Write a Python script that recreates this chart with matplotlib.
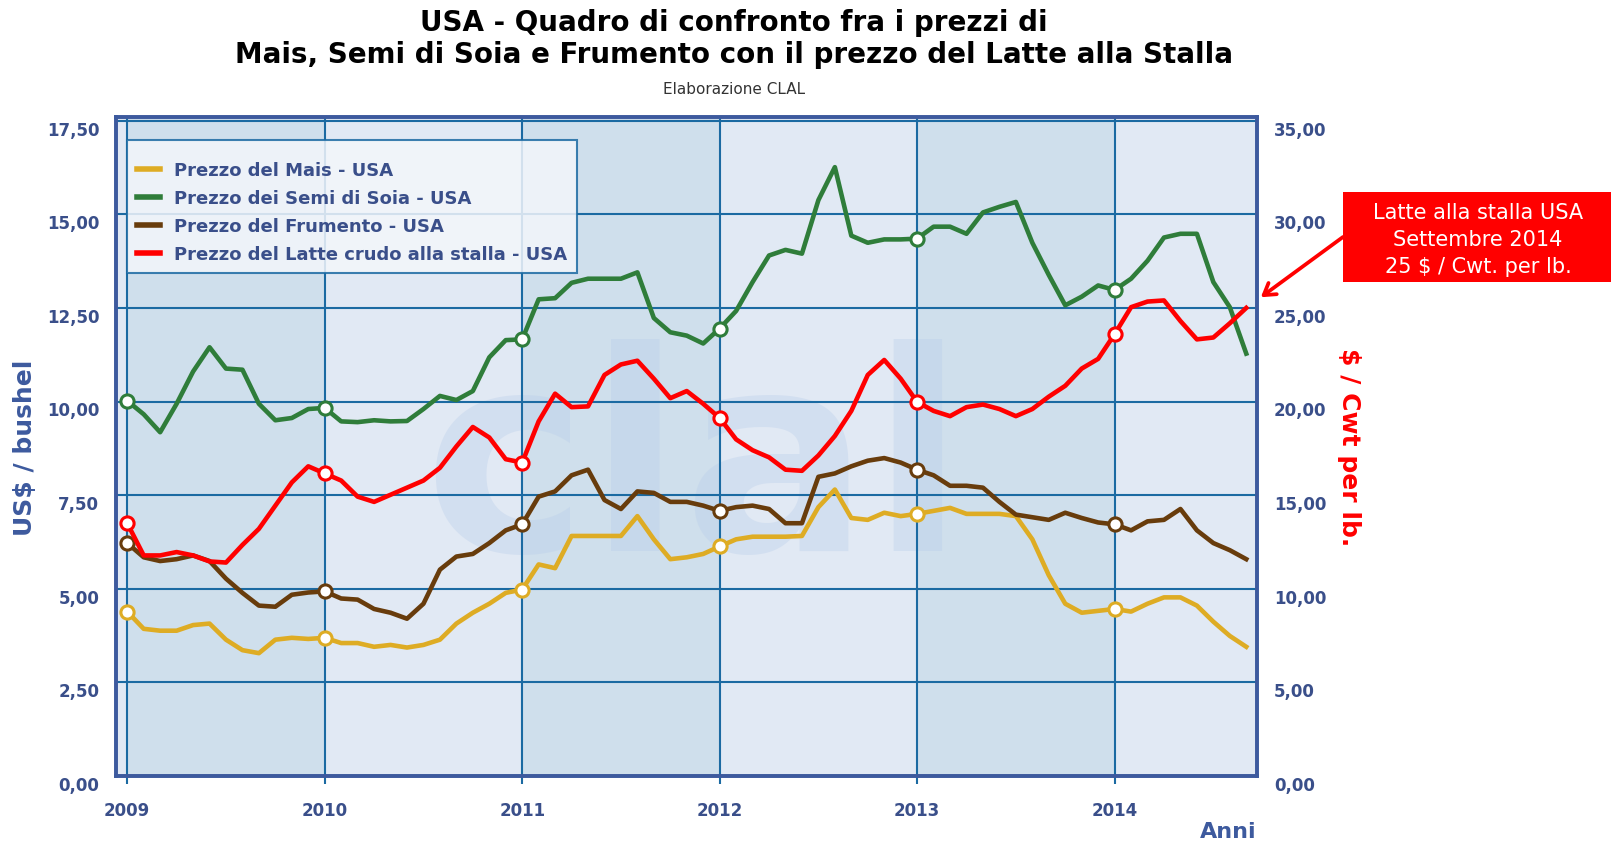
# USA: corn, soybean and wheat prices compared with farm-gate milk price (CLAL chart)
import numpy as np
import matplotlib
matplotlib.use('Agg')
import matplotlib.pyplot as plt
from matplotlib.lines import Line2D
from matplotlib.patches import Rectangle
import matplotlib.transforms as mtransforms

# Monthly values, Jan 2009 -> Sep 2014
start_year = 2009
n_months = 69

# US$ / bushel
mais = [4.39, 3.93, 3.88, 3.88, 4.03, 4.07, 3.64, 3.36, 3.28, 3.64, 3.69, 3.66,
        3.69, 3.55, 3.55, 3.45, 3.50, 3.43, 3.50, 3.64, 4.07, 4.36, 4.60, 4.89,
        4.98, 5.65, 5.55, 6.41, 6.41, 6.41, 6.41, 6.94, 6.32, 5.79, 5.84, 5.93,
        6.13, 6.32, 6.39, 6.39, 6.39, 6.41, 7.18, 7.65, 6.89, 6.84, 7.03, 6.94,
        7.00, 7.08, 7.16, 7.00, 7.00, 7.00, 6.94, 6.32, 5.36, 4.60, 4.36, 4.41,
        4.46, 4.39, 4.60, 4.77, 4.77, 4.55, 4.12, 3.74, 3.45]

soia = [10.02, 9.66, 9.18, 9.94, 10.80, 11.45, 10.88, 10.85, 9.94, 9.50, 9.56, 9.80,
        9.83, 9.47, 9.45, 9.50, 9.47, 9.48, 9.80, 10.15, 10.04, 10.28, 11.18, 11.64,
        11.66, 12.73, 12.76, 13.17, 13.28, 13.28, 13.28, 13.45, 12.23, 11.85, 11.76, 11.55,
        11.95, 12.42, 13.19, 13.90, 14.05, 13.95, 15.38, 16.26, 14.43, 14.24, 14.33, 14.33,
        14.35, 14.67, 14.67, 14.48, 15.05, 15.20, 15.33, 14.24, 13.38, 12.57, 12.80, 13.10,
        12.98, 13.28, 13.76, 14.38, 14.48, 14.48, 13.19, 12.52, 11.28]

frumento = [6.22, 5.84, 5.74, 5.79, 5.89, 5.74, 5.27, 4.89, 4.55, 4.52, 4.84, 4.90,
            4.93, 4.74, 4.71, 4.46, 4.36, 4.20, 4.60, 5.51, 5.86, 5.93, 6.22, 6.56,
            6.72, 7.46, 7.60, 8.03, 8.18, 7.37, 7.13, 7.60, 7.56, 7.32, 7.32, 7.22,
            7.08, 7.18, 7.22, 7.13, 6.75, 6.75, 7.99, 8.08, 8.27, 8.42, 8.49, 8.37,
            8.18, 8.03, 7.75, 7.75, 7.70, 7.32, 6.98, 6.91, 6.84, 7.03, 6.89, 6.77,
            6.72, 6.56, 6.80, 6.84, 7.13, 6.56, 6.22, 6.03, 5.79]

# $ / Cwt
latte = [13.50, 11.78, 11.78, 11.96, 11.78, 11.46, 11.40, 12.34, 13.20, 14.44, 15.68, 16.54,
         16.16, 15.78, 14.92, 14.64, 15.02, 15.40, 15.78, 16.46, 17.60, 18.64, 18.08, 16.92,
         16.74, 18.94, 20.42, 19.70, 19.74, 21.42, 21.98, 22.18, 21.22, 20.18, 20.56, 19.88,
         19.12, 17.98, 17.40, 17.02, 16.36, 16.30, 17.12, 18.16, 19.50, 21.42, 22.22, 21.22,
         19.98, 19.50, 19.22, 19.70, 19.84, 19.60, 19.22, 19.60, 20.26, 20.84, 21.76, 22.28,
         23.60, 25.04, 25.34, 25.40, 24.30, 23.32, 23.42, 24.18, 25.00]

years = [2009, 2010, 2011, 2012, 2013, 2014]
left_ticks = [0, 2.5, 5, 7.5, 10, 12.5, 15, 17.5]
right_ticks = [0, 5, 10, 15, 20, 25, 30, 35]

labels = ['Prezzo del Mais - USA',
          'Prezzo dei Semi di Soia - USA',
          'Prezzo del Frumento - USA',
          'Prezzo del Latte crudo alla stalla - USA']
colors = ['#deac24', '#2f7d3a', '#683c0c', '#ff0000']

x = start_year + np.arange(n_months) / 12.0

# colours of the frame
axis_blue = '#3d5a9e'
grid_blue = '#1b6aa2'
text_blue = '#3a4f8a'
light_bg = '#e1e9f4'
dark_bg = '#cfdfec'

fig = plt.figure(figsize=(16.11, 8.45), dpi=100)
ax = fig.add_axes([0.0720, 0.0805, 0.7085, 0.7799])
ax2 = ax.twinx()

ax.set_xlim(2008.943, 2014.723)
ax.set_ylim(0, 17.6)
ax2.set_ylim(0, 35.2)

# alternating year bands
ax.set_facecolor(light_bg)
for y0 in [2009, 2011, 2013]:
    ax.axvspan(y0, y0 + 1, color=dark_bg, lw=0, zorder=0)

# faint watermark
ax.text(2011.87, 8.1, 'clal', ha='center', va='center', fontsize=200, weight='bold',
        color='#b8cdea', alpha=0.35, zorder=0.2)

# grid
ax.set_xticks(years)
ax.set_yticks(left_ticks)
ax.set_yticklabels([('%.2f' % v).replace('.', ',') for v in left_ticks])
ax2.set_yticks(right_ticks)
ax2.set_yticklabels([('%.2f' % v).replace('.', ',') for v in right_ticks])
ax.grid(True, color=grid_blue, lw=1.5)
ax.set_axisbelow(True)

# series
lw = 3.3
marker_style = dict(marker='o', markevery=12, markersize=9.5, markerfacecolor='white',
                    markeredgewidth=2.2)
ax.plot(x, mais, color=colors[0], lw=lw, markeredgecolor=colors[0], zorder=3, **marker_style)
ax.plot(x, frumento, color=colors[2], lw=lw, markeredgecolor=colors[2], zorder=3, **marker_style)
ax.plot(x, soia, color=colors[1], lw=lw, markeredgecolor=colors[1], zorder=3, **marker_style)
ax2.plot(x, latte, color=colors[3], lw=lw, markeredgecolor=colors[3], zorder=3, **marker_style)

# frame
for a in (ax, ax2):
    for s in a.spines.values():
        s.set_color(axis_blue)
        s.set_linewidth(2.6)

ax.tick_params(axis='x', length=6, width=1.5, color=grid_blue, labelsize=12,
               labelcolor=text_blue, pad=12)
ax.tick_params(axis='y', length=0, labelsize=12, labelcolor=text_blue, pad=12)
ax2.tick_params(axis='y', length=0, labelsize=12, labelcolor=text_blue, pad=12)
for lab in ax.get_xticklabels() + ax.get_yticklabels() + ax2.get_yticklabels():
    lab.set_fontweight('bold')

ax.set_ylabel('US$ / bushel', fontsize=18, weight='bold', color=axis_blue, labelpad=7)
ax2.set_ylabel('$ / Cwt per lb.', fontsize=18, weight='bold', color='#ff0000',
               rotation=270, labelpad=25)
fig.text(1257 / 1611, 1 - 832 / 845, 'Anni', ha='right', va='center', fontsize=16,
         weight='bold', color=axis_blue)

# legend (a tiny blank title gives the extra room above the first entry)
handles = [Line2D([], [], color=c, lw=4) for c in colors]
leg = ax2.legend(handles, labels, loc='upper left',
                 bbox_to_anchor=(127 / 1611, 1 - 141 / 845), bbox_transform=fig.transFigure,
                 prop=dict(weight='bold', size=13), labelcolor=text_blue,
                 title=' ', title_fontsize=1,
                 fancybox=False, edgecolor=grid_blue, facecolor='#f3f6fb', framealpha=0.85,
                 handlelength=1.3, handletextpad=0.75, borderpad=0.55, labelspacing=0.56,
                 borderaxespad=0)
leg.get_frame().set_linewidth(1.5)
leg.set_zorder(10)

# titles
fig.text(734 / 1611, 1 - 23 / 845, 'USA - Quadro di confronto fra i prezzi di',
         ha='center', va='center', fontsize=20, weight='bold')
fig.text(734 / 1611, 1 - 55 / 845,
         'Mais, Semi di Soia e Frumento con il prezzo del Latte alla Stalla',
         ha='center', va='center', fontsize=20, weight='bold')
fig.text(734 / 1611, 1 - 89 / 845, 'Elaborazione CLAL', ha='center', va='center',
         fontsize=11, color='#333333')

# red call-out box with arrow to the last milk value
fig.patches.append(Rectangle((1343 / 1611, 1 - 283 / 845), (1611 - 1343) / 1611, 90 / 845,
                             transform=fig.transFigure, facecolor='#ff0000', lw=0))
fig.text(1478 / 1611, 1 - 240 / 845, 'Latte alla stalla USA\nSettembre 2014\n25 $ / Cwt. per lb.',
         ha='center', va='center', fontsize=15, color='white', linespacing=1.45)
ax2.annotate('', xy=(x[-1], latte[-1]), xycoords='data',
             xytext=(1343 / 1611, 1 - 238 / 845), textcoords='figure fraction',
             arrowprops=dict(arrowstyle='->,head_length=0.8,head_width=0.5', color='#ff0000',
                             lw=2.7, shrinkA=0, shrinkB=13),
             annotation_clip=False)

# tick labels sit a little below their grid lines
offset = mtransforms.ScaledTranslation(0, -5 / 72, fig.dpi_scale_trans)
for t in ax.yaxis.get_major_ticks() + ax2.yaxis.get_major_ticks():
    t.label1.set_transform(t.label1.get_transform() + offset)
    t.label2.set_transform(t.label2.get_transform() + offset)

fig.savefig('out.png', dpi=100)
